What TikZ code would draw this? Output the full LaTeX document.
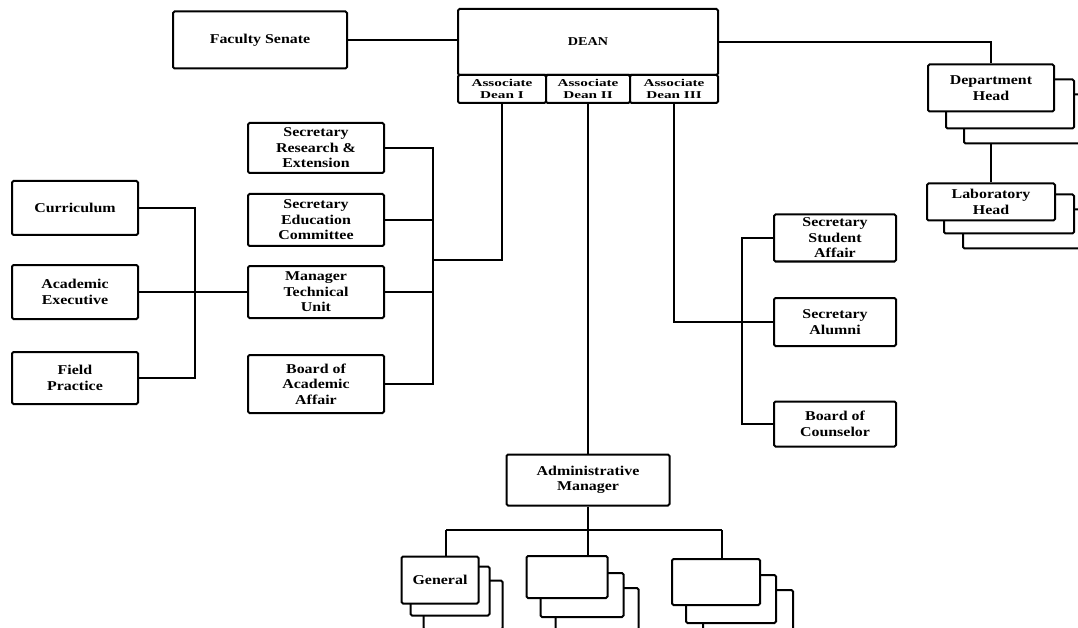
\documentclass[tikz,border=0pt]{standalone}
\usepackage{fontspec}
\setmainfont{Liberation Serif}[FakeStretch=1.18]
\newfontfamily\cellfont{Liberation Serif}[FakeStretch=1.45]
\usetikzlibrary{calc}
\pgfdeclarelayer{wires}
\pgfdeclarelayer{stack}
\pgfsetlayers{wires,stack,main}

\tikzset{
  unit/.style={draw, line width=2pt, rounded corners=1.5pt, fill=white,
    align=center, inner sep=0pt,
    font=\bfseries\fontsize{13.5}{15.5}\selectfont},
  cell/.style={unit, font=\cellfont\bfseries\fontsize{10.5}{12.5}\selectfont},
  wire/.style={line width=1.6pt},
  trunk/.style={line width=2.6pt},
  sheet/.style={draw, line width=2pt, rounded corners=1.5pt, fill=white},
}

% two copies of a box stacked behind it, shifted right and down
\newcommand\stackbehind[5]{%
  \begin{pgfonlayer}{stack}
    \draw[sheet] ($(#1.north west)+(#4,#5)$) rectangle ($(#1.south east)+(#4,#5)$);
    \draw[sheet] ($(#1.north west)+(#2,#3)$) rectangle ($(#1.south east)+(#2,#3)$);
  \end{pgfonlayer}}

\begin{document}
\begin{tikzpicture}[x=1pt, y=-1pt]
\useasboundingbox (0,0) rectangle (1078,628);

% top row
\node[unit, minimum width=174pt, minimum height=57pt] (fs) at (260,40) {Faculty Senate};
\node[unit, minimum width=260pt, minimum height=66pt, font=\bfseries\fontsize{12}{13}\selectfont] (dean) at (588,42) {DEAN};
\node[cell, minimum width=88pt, minimum height=28pt] (ad1) at (502,89) {Associate\\Dean I};
\node[cell, minimum width=84pt, minimum height=28pt] (ad2) at (588,89) {Associate\\Dean II};
\node[cell, minimum width=88pt, minimum height=28pt] (ad3) at (674,89) {Associate\\Dean III};

% left column
\node[unit, minimum width=126pt, minimum height=54pt] (cur) at (75,208) {Curriculum};
\node[unit, minimum width=126pt, minimum height=54pt] (ae) at (75,292) {Academic\\Executive};
\node[unit, minimum width=126pt, minimum height=52pt] (fp) at (75,378) {Field\\Practice};

% middle column
\node[unit, minimum width=136pt, minimum height=50pt] (sre) at (316,148) {Secretary\\Research \&\\Extension};
\node[unit, minimum width=136pt, minimum height=52pt] (sec) at (316,220) {Secretary\\Education\\Committee};
\node[unit, minimum width=136pt, minimum height=52pt] (mtu) at (316,292) {Manager\\Technical\\Unit};
\node[unit, minimum width=136pt, minimum height=58pt] (baa) at (316,384) {Board of\\Academic\\Affair};

% right column
\node[unit, minimum width=122pt, minimum height=47pt] (ssa) at (835,238) {Secretary\\Student\\Affair};
\node[unit, minimum width=122pt, minimum height=48pt] (sa) at (835,322) {Secretary\\Alumni};
\node[unit, minimum width=122pt, minimum height=45pt] (bc) at (835,424) {Board of\\Counselor};

% departments
\node[unit, minimum width=126pt, minimum height=47pt] (dh) at (991,88) {Department\\Head};
\node[unit, minimum width=128pt, minimum height=37pt] (lh) at (991,202) {Laboratory\\Head};
\stackbehind{dh}{19}{16}{37}{31}
\stackbehind{lh}{18}{12}{37}{27}

% administration
\node[unit, minimum width=163pt, minimum height=51pt] (am) at (588,480) {Administrative\\Manager};
\node[unit, minimum width=77pt, minimum height=47pt] (gen) at (440,580) {General};
\node[unit, minimum width=81pt, minimum height=42pt] (u2) at (567,577) {};
\node[unit, minimum width=88pt, minimum height=46pt] (u3) at (716,582) {};
\stackbehind{gen}{10}{11}{23}{25}
\stackbehind{u2}{15}{18}{30}{33}
\stackbehind{u3}{15}{17}{32}{32}

% bus points
\coordinate (lbT) at (195,208);
\coordinate (lbB) at (195,378);
\coordinate (mbT) at (433,148);
\coordinate (mbB) at (433,384);
\coordinate (mbJ) at (433,260);
\coordinate (rbT) at (742,238);
\coordinate (rbB) at (742,424);
\coordinate (abJ) at (588,530);
\coordinate (abL) at (446,530);
\coordinate (abR) at (722,530);

\begin{pgfonlayer}{wires}
  \draw[wire] (fs.east) -- (fs.east -| dean.west);
  \draw[wire] (dean.east) -| (dh.north);
  \draw[wire] (dh.south) -- (lh.north);

  % Associate Dean I branch
  \draw[trunk] (ad1.south) |- (mbJ);
  \draw[wire] (sre.east) -- (mbT) -- (mbB) -- (baa.east);
  \draw[wire] (sec.east) -- (sec.east -| mbT);
  \draw[wire] (mtu.east) -- (mtu.east -| mbT);
  \draw[wire] (ae.east) -- (mtu.west);
  \draw[wire] (cur.east) -- (lbT) -- (lbB) -- (fp.east);

  % Associate Dean II branch
  \draw[trunk] (ad2.south) -- (am.north);
  \draw[wire] (am.south) -- (abJ);
  \draw[wire] (abL) -- (abR);
  \draw[wire] (abL) -- (abL |- gen.north);
  \draw[wire] (abJ) -- (abJ |- u2.north);
  \draw[wire] (abR) -- (abR |- u3.north);

  % Associate Dean III branch
  \draw[trunk] (ad3.south) |- (sa.west);
  \draw[wire] (ssa.west) -- (rbT) -- (rbB) -- (bc.west);
\end{pgfonlayer}
\end{tikzpicture}
\end{document}
